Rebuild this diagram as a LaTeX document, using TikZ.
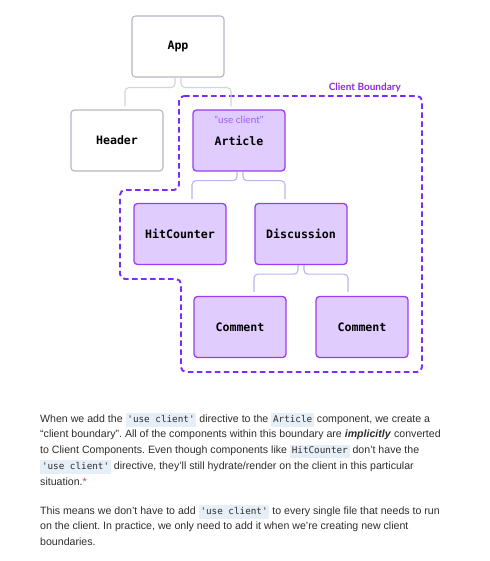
\documentclass[tikz,border=0pt]{standalone}
\usepackage{fontspec}
\setmainfont{Liberation Sans}
\setmonofont{DejaVu Sans Mono}
\newfontfamily\labelfont{Lato}
\usetikzlibrary{calc}
\definecolor{graybd}{HTML}{B8B4C6}
\definecolor{grayln}{HTML}{D4D2DE}
\definecolor{purpfill}{HTML}{E1CCFE}
\definecolor{purpbd}{HTML}{9B3DF2}
\definecolor{purpln}{HTML}{B9B6F2}
\definecolor{boundary}{HTML}{7B2CF5}
\definecolor{bndtext}{HTML}{8A2BE2}
\definecolor{useclient}{HTML}{9D5CF0}
\definecolor{paratext}{HTML}{2E2E2E}
\definecolor{codebg}{HTML}{E6EEF8}
\definecolor{astcol}{HTML}{E8345A}
\newcommand\code[1]{{\setlength{\fboxsep}{1.8pt}\colorbox{codebg}{\ttfamily\fontsize{9.3}{10}\selectfont\strut #1}}}
\frenchspacing
\begin{document}
\begin{tikzpicture}[x=1pt,y=-1pt,
  box/.style={rounded corners=3.5pt, minimum width=92pt, minimum height=61pt, inner sep=0pt,
    font=\ttfamily\bfseries\fontsize{11.6}{13}\selectfont, text=black},
  srvbox/.style={box, draw=graybd, fill=white, line width=1.1pt},
  clibox/.style={box, draw=purpbd, fill=purpfill, line width=1.3pt},
  conn/.style={rounded corners=4pt, line width=1.1pt},
  srvconn/.style={conn, draw=grayln},
  cliconn/.style={conn, draw=purpln},
  para/.style={anchor=base west, inner sep=0pt, text=paratext, font=\fontsize{10.6}{13}\selectfont},
]
\useasboundingbox[fill=white] (0,0) rectangle (489,561);

% boundary
\draw[boundary, line width=1.9pt, dash pattern=on 5.5pt off 3.5pt, rounded corners=5pt]
  (179,96) -- (422,96) -- (422,372) -- (181,372) -- (181,279) -- (120,279) -- (120,190) -- (179,190) -- cycle;
\node[font=\labelfont\bfseries\fontsize{10}{11}\selectfont, text=bndtext, anchor=east, inner sep=0pt] (cb) at (401,88) {Client Boundary};

% boxes
\node[srvbox] (App) at (178,46.5) {App};
\node[srvbox] (Header) at (117,140.5) {Header};
\node[clibox] (Article) at (239,140.5) {Article};
\node[font=\labelfont\fontsize{10}{11}\selectfont, text=useclient, inner sep=0pt] (uc) at (239,120) {"use client"};
\node[clibox] (Hit) at (180,234) {HitCounter};
\node[clibox] (Disc) at (301,234) {Discussion};
\node[clibox] (C1) at (240,327) {Comment};
\node[clibox] (C2) at (362,327) {Comment};

% connectors
\draw[srvconn] ($(App.south)+(-3,0)$) -- ++(0,10) -| ($(Header.north)+(8,-3)$);
\draw[srvconn] ($(App.south)+(3,0)$) -- ++(0,10) -| ($(Article.north)+(-8,-3)$);
\draw[cliconn] ($(Article.south)+(-2,0)$) -- ++(0,9) -| ($(Hit.north)+(12,-4)$);
\draw[cliconn] ($(Article.south)+(4,0)$) -- ++(0,9) -| ($(Disc.north)+(-16,-4)$);
\draw[cliconn] ($(Disc.south)+(-3,0)$) -- ++(0,9) -| ($(C1.north)+(14,-4)$);
\draw[cliconn] ($(Disc.south)+(3,0)$) -- ++(0,9) -| ($(C2.north)+(-14,-4)$);

% paragraph 1
\node[para] (l1) at (40,422) {When we add the \code{'use client'} directive to the \code{Article} component, we create a};
\node[para] (l2) at (40,437.75) {``client boundary''. All of the components within this boundary are \textbf{\textit{implicitly}} converted};
\node[para] (l3) at (40,453.5) {to Client Components. Even though components like \code{HitCounter} don't have the};
\node[para] (l4) at (40,469.25) {\code{'use client'} directive, they'll still hydrate/render on the client in this particular};
\node[para] (l5) at (40,485) {situation.\textcolor{astcol}{*}};
% paragraph 2
\node[para] (m1) at (40,514) {This means we don't have to add \code{'use client'} to every single file that needs to run};
\node[para] (m2) at (40,529.5) {on the client. In practice, we only need to add it when we're creating new client};
\node[para] (m3) at (40,545) {boundaries.};
\end{tikzpicture}
\end{document}
